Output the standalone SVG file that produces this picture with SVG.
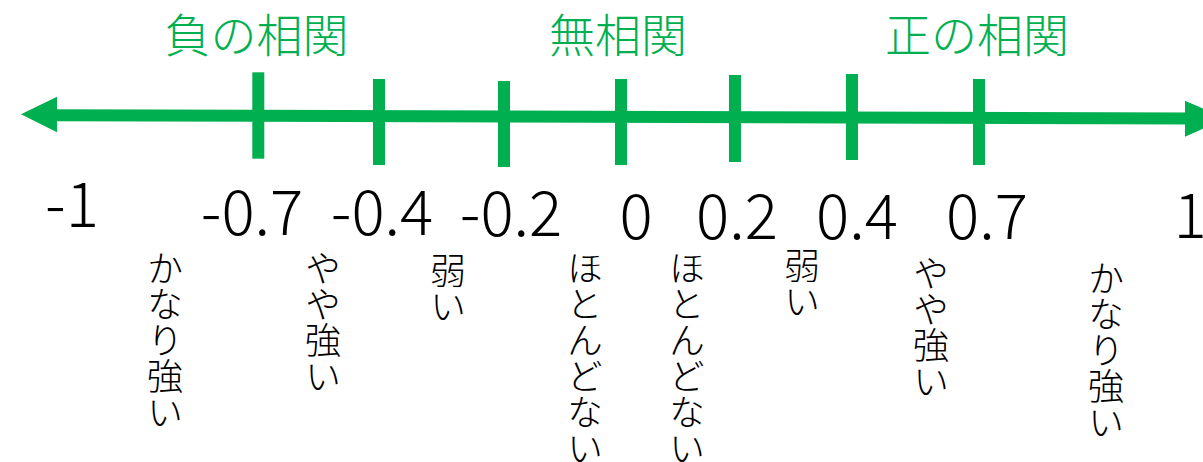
<svg xmlns="http://www.w3.org/2000/svg" width="1203" height="462" viewBox="0 0 1203 462">
<style>
.g{fill:#00B050}
.axis{stroke:#00B050;stroke-width:12;fill:none}
.title{font-family:"Noto Sans CJK JP","Noto Sans",sans-serif;font-size:46px;font-weight:300;fill:#00B050;text-anchor:middle}
.num{font-family:"Noto Sans CJK JP","Liberation Sans",sans-serif;font-size:62px;font-weight:300;fill:#000;text-anchor:middle}
.v{font-family:"Noto Sans CJK JP",sans-serif;font-size:36px;font-weight:300;fill:#000;writing-mode:vertical-rl}
</style>
<rect width="1203" height="462" fill="#fff"/>
<g id="connectors">
<line class="axis" x1="50" y1="115.2" x2="1192" y2="118.4"/>
<polygon class="g" points="21,114.3 57,96.7 57,132.3"/>
<polygon class="g" points="1185,100.7 1226,118.7 1185,136.7"/>
</g>
<g id="ticks" class="g">
<rect x="252.3" y="72.3" width="12" height="86.4"/>
<rect x="373" y="79" width="12" height="86"/>
<rect x="498" y="81" width="12" height="86"/>
<rect x="615" y="79" width="12" height="86"/>
<rect x="729" y="75" width="12" height="87"/>
<rect x="846" y="74" width="12" height="86"/>
<rect x="973" y="79" width="12" height="86"/>
</g>
<g id="titles">
<text class="title" x="256.5" y="52">負の相関</text>
<text class="title" x="618" y="52">無相関</text>
<text class="title" x="977" y="52">正の相関</text>
</g>
<g id="numbers">
<text class="num" x="72" y="227">-1</text>
<text class="num" x="252" y="235">-0.7</text>
<text class="num" x="382" y="235">-0.4</text>
<text class="num" x="511" y="236">-0.2</text>
<text class="num" x="636" y="239">0</text>
<text class="num" x="737" y="239">0.2</text>
<text class="num" x="857" y="239">0.4</text>
<text class="num" x="987" y="239">0.7</text>
<text class="num" x="1190" y="238">1</text>
</g>
<g id="labels">
<text class="v" x="165" y="250">かなり強い</text>
<text class="v" x="323" y="250">やや強い</text>
<text class="v" x="448" y="252">弱い</text>
<text class="v" x="585" y="250">ほとんどない</text>
<text class="v" x="687" y="250">ほとんどない</text>
<text class="v" x="802" y="247">弱い</text>
<text class="v" x="931" y="255">やや強い</text>
<text class="v" x="1106" y="260">かなり強い</text>
</g>
</svg>
